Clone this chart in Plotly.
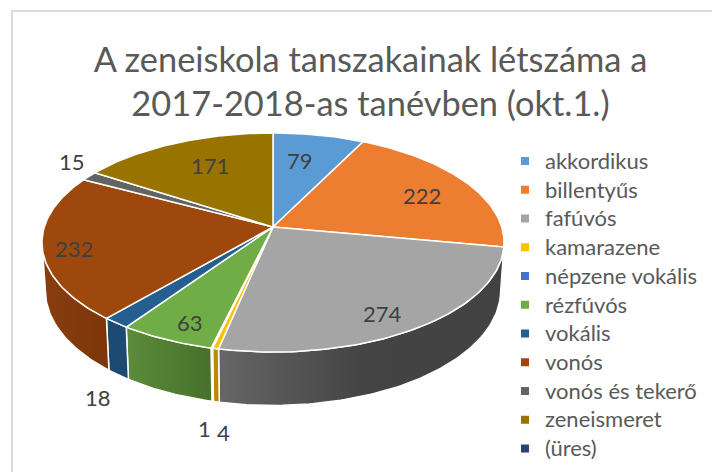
import math
import plotly.graph_objects as go

# ---- data ----
categories = ["akkordikus", "billentyűs", "fafúvós", "kamarazene", "népzene vokális",
              "rézfúvós", "vokális", "vonós", "vonós és tekerő", "zeneismeret", "(üres)"]
values = [79, 222, 274, 4, 1, 63, 18, 232, 15, 171, 0]
data_labels = ["79", "222", "274", "4", "1", "63", "18", "232", "15", "171", ""]
title_text = "A zeneiskola tanszakainak létszáma a<br>2017-2018-as tanévben (okt.1.)"

# ---- styles ----
colors = ["#5B9BD5", "#ED7D31", "#A5A5A5", "#FFC000", "#4472C4", "#70AD47",
          "#255E91", "#9E480E", "#636363", "#997300", "#264478"]
wall_scales = {
    0: ["#4a7ba8", "#4a7ba8"], 1: ["#b55d22", "#b55d22"],
    2: ["#666666", "#444444", "#424242"], 3: ["#b98b00", "#b98b00"],
    4: ["#30528f", "#30528f"], 5: ["#5c8c3a", "#46702c"],
    6: ["#1c4a73", "#1c4a73"], 7: ["#8a3d0d", "#7b360b"],
    8: ["#494949", "#494949"], 9: ["#6f5400", "#6f5400"], 10: ["#1a3058", "#1a3058"],
}
label_pos = {0: (300, 160), 1: (422, 195), 2: (382, 313), 3: (223, 432), 4: (204, 428),
             5: (190, 322), 6: (98, 397), 7: (74, 248), 8: (72, 161), 9: (210, 165)}
FONT = "Lato"

# the page body has an 8px margin: the figure fills the rest of the window
PAGE_W, PAGE_H, BODY = 720, 472, 8
FIG_W, FIG_H = PAGE_W - BODY, PAGE_H - BODY

# ---- projection of the tilted disc (pixels) ----
CX, CY, A, B, K, DEPTH, BOTTOM_SCALE = 273, 227, 228.7, 107.3, 0.1416, 47.5, 0.985


def project(theta_deg, r=1.0, lower=False):
    t = math.radians(theta_deg)
    u, v = r * math.sin(t), r * math.cos(t)
    w = 1 + K * v
    s = BOTTOM_SCALE if lower else 1.0
    return CX + s * A * u / w, CY - s * B * v / w + (DEPTH / w if lower else 0)


def arc(a0, a1, lower=False):
    n = max(2, int(abs(a1 - a0)) + 2)
    return [project(a0 + (a1 - a0) * i / (n - 1), lower=lower) for i in range(n)]


total = sum(values)
spans = []
acc = 0
for val in values:
    spans.append((acc / total * 360, (acc + val) / total * 360))
    acc += val

VIS0 = math.degrees(math.acos(-K))
VIS1 = 360 - VIS0

fig = go.Figure()

# side walls
for i, (a0, a1) in enumerate(spans):
    lo, hi = max(a0, VIS0), min(a1, VIS1)
    if values[i] == 0 or hi <= lo:
        continue
    pts = arc(lo, hi) + arc(hi, lo, lower=True)
    pts.append(pts[0])
    sc = wall_scales[i]
    fig.add_trace(go.Scatter(
        x=[p[0] for p in pts], y=[p[1] for p in pts], mode="lines", fill="toself",
        line=dict(color="white", width=1.5), showlegend=False, hoverinfo="skip",
        fillgradient=dict(type="horizontal",
                          colorscale=[[j / (len(sc) - 1), c] for j, c in enumerate(sc)]),
    ))

# top faces
for i, (a0, a1) in enumerate(spans):
    if values[i] == 0:
        continue
    pts = [(CX, CY)] + arc(a0, a1) + [(CX, CY)]
    fig.add_trace(go.Scatter(
        x=[p[0] for p in pts], y=[p[1] for p in pts], mode="lines", fill="toself",
        fillcolor=colors[i], line=dict(color="white", width=1.5),
        showlegend=False, name=categories[i], hoverinfo="name",
    ))

# legend entries
for i, name in enumerate(categories):
    fig.add_trace(go.Scatter(
        x=[None], y=[None], mode="markers",
        name=f'<span style="font-size:22px">{name}</span>',
        marker=dict(symbol="square", size=8, color=colors[i]),
    ))

# data labels
for i, txt in enumerate(data_labels):
    if txt:
        x, y = label_pos[i]
        fig.add_annotation(x=x, y=y, xref="x", yref="y", text=txt, showarrow=False,
                           font=dict(family=FONT, size=22, color="#404040"))

fig.update_layout(
    width=FIG_W, height=FIG_H, autosize=False,
    margin=dict(l=0, r=0, t=0, b=0, autoexpand=False),
    paper_bgcolor="white", plot_bgcolor="white",
    xaxis=dict(range=[BODY, PAGE_W], visible=False, fixedrange=True),
    yaxis=dict(range=[PAGE_H, BODY], visible=False, fixedrange=True),
    title=dict(text=title_text, x=(370.5 - BODY) / FIG_W, xanchor="center",
               y=0.863, yanchor="middle",
               font=dict(family=FONT, size=34.4, color="#595959")),
    legend=dict(x=(505 - BODY) / FIG_W, xanchor="left", y=1 - (141.7 - BODY) / FIG_H, yanchor="top",
                font=dict(family=FONT, size=19.8, color="#595959"),
                bgcolor="rgba(0,0,0,0)", borderwidth=0),
    shapes=[dict(type="rect", xref="x", yref="y", x0=12, y0=11, x1=760, y1=520,
                 line=dict(color="#dcdcdc", width=2), layer="below")],
)

fig.write_html("out.html")
